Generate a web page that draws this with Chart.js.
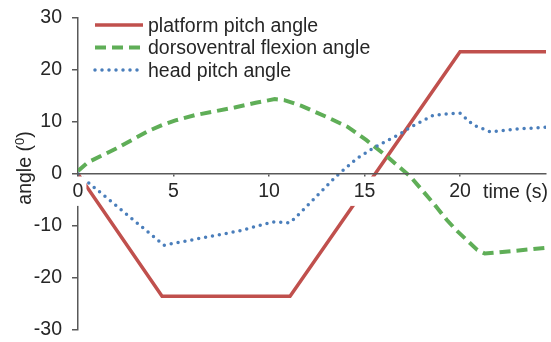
<!DOCTYPE html>
<html>
<head>
<meta charset="utf-8">
<script src="https://cdn.jsdelivr.net/npm/chart.js@4"></script>
<style>
  html, body { margin: 0; padding: 0; background: #fff; }
  #wrap { width: 551px; height: 342px; position: relative; }
</style>
</head>
<body>
<div id="wrap"><canvas id="angleChart"></canvas></div>
<script>
// time (s) and angle (deg)
const platformTime = [0, 4.4, 11.1, 20, 24.5];
const platformAngle = [0, -23.5, -23.5, 23.5, 23.5];

const flexionTime = [0, 0.5, 2, 3.7, 4.4, 5.1, 6.1, 8.2, 9.3, 10.3, 10.8, 11.7, 13, 14.1, 15.1, 16.2, 17.4, 18.6, 19.3, 19.8, 20.35, 20.9, 21.3, 22.5, 24.5];
const flexionAngle = [0.6, 2.2, 4.9, 8.3, 9.4, 10.3, 11.3, 12.8, 13.7, 14.4, 14.2, 13.1, 11, 9.1, 6.5, 3.3, -0.5, -5.6, -8.8, -10.8, -12.7, -14.6, -15.3, -14.9, -14.2];

const headTime = [0, 4.5, 8.5, 10.2, 11.1, 11.6, 12.3, 13.5, 14.6, 15.6, 16.9, 17.4, 18.6, 19.4, 20, 20.7, 21.6, 22.8, 24.5];
const headAngle = [0, -13.7, -10.9, -9.2, -9.4, -7.6, -5, -0.5, 3, 5.3, 7.8, 9, 11.3, 11.6, 11.7, 9.4, 8.1, 8.6, 9];

const seriesLabels = ["platform pitch angle", "dorsoventral flexion angle", "head pitch angle"];
const yTicks = [-30, -20, -10, 0, 10, 20, 30];
const xTickStep = 5;
const xTitle = "time (s)";
const yTitle = "angle (";
const yTitleSup = "0";

const FONT = '"Liberation Sans", Arial, sans-serif';
const FONT_SIZE = 19.5;
const TEXT = "#262626";
const AXIS = "#595959";

function toPoints(xs, ys) {
  return xs.map((x, i) => ({ x: x, y: ys[i] }));
}

const annotations = {
  id: "annotations",
  afterDraw(chart) {
    const { ctx, chartArea, scales } = chart;
    const font = FONT_SIZE + "px " + FONT;
    ctx.save();

    // legend, top left inside the plot
    const lx = chartArea.left + 17;
    chart.data.datasets.forEach((ds, i) => {
      const ly = chartArea.top + 7 + i * 22.5;
      ctx.beginPath();
      ctx.strokeStyle = ds.borderColor;
      ctx.lineWidth = ds.borderWidth;
      ctx.lineCap = ds.borderCapStyle || "butt";
      ctx.setLineDash(ds.borderDash || []);
      ctx.moveTo(lx, ly);
      ctx.lineTo(lx + 48, ly);
      ctx.stroke();
      ctx.setLineDash([]);
      ctx.fillStyle = TEXT;
      ctx.font = font;
      ctx.textAlign = "left";
      ctx.textBaseline = "middle";
      ctx.fillText(ds.label, lx + 53, ly + 1.5);
    });

    // x title sits on the tick label row
    const y0 = scales.y.getPixelForValue(0);
    ctx.font = font;
    ctx.textAlign = "right";
    ctx.textBaseline = "alphabetic";
    ctx.fillStyle = TEXT;
    ctx.fillText(xTitle, chartArea.right + 2, y0 + 23.5);

    // y title with superscript
    ctx.translate(24, 168);
    ctx.rotate(-Math.PI / 2);
    ctx.font = font;
    const w1 = ctx.measureText(yTitle).width;
    const w3 = ctx.measureText(")").width;
    ctx.font = "13px " + FONT;
    const w2 = ctx.measureText(yTitleSup).width;
    let x = -(w1 + w2 + w3) / 2;
    ctx.textAlign = "left";
    ctx.font = font;
    ctx.fillText(yTitle, x, 7);
    x += w1;
    ctx.font = "13px " + FONT;
    ctx.fillText(yTitleSup, x, 0);
    x += w2;
    ctx.font = font;
    ctx.fillText(")", x, 7);
    ctx.restore();
  },
};

const ctx = document.getElementById("angleChart").getContext("2d");
const angleChart = new Chart(ctx, {
  type: "line",
  data: {
    datasets: [
      {
        label: seriesLabels[0],
        data: toPoints(platformTime, platformAngle),
        borderColor: "#C0504D",
        borderWidth: 3.5,
        order: 3,
      },
      {
        label: seriesLabels[1],
        data: toPoints(flexionTime, flexionAngle),
        borderColor: "#5FAE57",
        borderWidth: 4,
        borderDash: [11, 6],
        order: 2,
      },
      {
        label: seriesLabels[2],
        data: toPoints(headTime, headAngle),
        borderColor: "#4A7EBB",
        borderWidth: 3.5,
        borderDash: [0, 7],
        borderCapStyle: "round",
        order: 1,
      },
    ],
  },
  options: {
    responsive: true,
    maintainAspectRatio: false,
    animation: false,
    layout: { padding: { left: 0, top: 18, right: 5, bottom: 12 } },
    elements: {
      point: { radius: 0 },
      line: { tension: 0, fill: false },
    },
    plugins: {
      legend: { display: false },
      tooltip: { enabled: false },
    },
    scales: {
      x: {
        type: "linear",
        min: 0,
        max: 24.5,
        position: { y: 0 },
        afterFit(scale) {
          scale.height = 0;
          scale.paddingLeft = 0;
          scale.paddingRight = 0;
        },
        border: { color: AXIS, width: 1.5, z: 1 },
        grid: { drawOnChartArea: false, tickLength: 4, color: AXIS, lineWidth: 1.5, z: 1 },
        ticks: {
          z: 1,
          stepSize: xTickStep,
          includeBounds: false,
          maxRotation: 0,
          padding: 1.5,
          color: TEXT,
          font: { family: FONT, size: FONT_SIZE },
          showLabelBackdrop: true,
          backdropColor: "#ffffff",
          backdropPadding: 3,
        },
      },
      y: {
        min: yTicks[0],
        max: yTicks[yTicks.length - 1],
        afterFit(scale) {
          scale.width = 78;
          scale.paddingTop = 0;
          scale.paddingBottom = 0;
        },
        afterBuildTicks(scale) {
          scale.ticks = yTicks.map((v) => ({ value: v }));
        },
        border: { color: AXIS, width: 1.5 },
        grid: { drawOnChartArea: false, tickLength: 6, color: AXIS, lineWidth: 1.5 },
        ticks: {
          padding: 10,
          color: TEXT,
          font: { family: FONT, size: FONT_SIZE },
        },
      },
    },
  },
  plugins: [annotations],
});
</script>
</body>
</html>
